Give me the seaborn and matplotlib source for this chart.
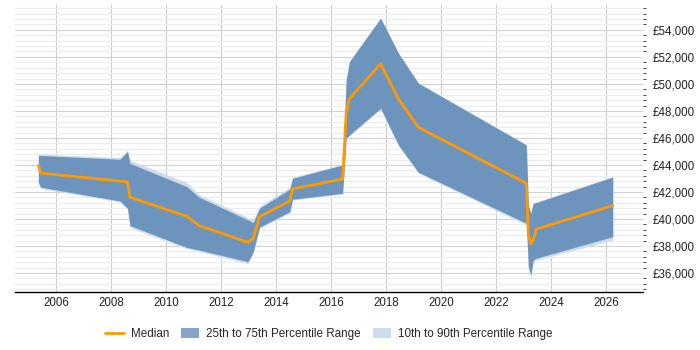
import numpy as np
import pandas as pd
import seaborn as sns
import matplotlib.pyplot as plt
from matplotlib.patches import Patch
from matplotlib.lines import Line2D
from matplotlib.ticker import FuncFormatter, MultipleLocator

years = [2005.36, 2005.45, 2008.33, 2008.60, 2008.69, 2010.75, 2011.20, 2012.98,
         2013.17, 2013.40, 2014.50, 2014.60, 2016.42, 2016.55, 2016.67, 2017.80,
         2018.45, 2019.17, 2023.10, 2023.17, 2023.26, 2023.35, 2023.45, 2026.24]
median = [43950, 43400, 42800, 42740, 41610, 40200, 39510, 38270,
          38570, 40170, 41330, 42220, 42960, 47830, 48910, 51480,
          48890, 46790, 42640, 38900, 38150, 38440, 39240, 40990]
p25 = [42700, 42350, 41330, 40790, 39510, 37900, 37700, 36840,
       37580, 39400, 40540, 41460, 41900, 45980, 46220, 48200,
       45480, 43460, 39680, 36500, 35850, 36960, 37090, 38690]
p75 = [44700, 44700, 44420, 44990, 44120, 42400, 41610, 39930,
       39730, 40800, 42200, 43010, 44000, 50300, 51650, 54860,
       52270, 50050, 45480, 41000, 40420, 41160, 41210, 43100]
p10 = [42600, 42250, 41250, 40700, 39350, 37800, 37600, 36700,
       37400, 39300, 40450, 41400, 41850, 45900, 46150, 48150,
       45400, 43400, 39550, 36300, 35600, 36800, 36950, 38440]
p90 = [44800, 44800, 44550, 45100, 44350, 42700, 41800, 40100,
       39900, 40950, 42350, 43100, 44050, 50350, 51700, 54900,
       52300, 50100, 45500, 41050, 40450, 41200, 41250, 43150]

df = pd.DataFrame({"year": years, "median": median})

sns.set_style("white")
plt.rcParams['font.family'] = ['Liberation Sans', 'DejaVu Sans']

fig = plt.figure(figsize=(7, 3.5), dpi=100)
ax = fig.add_axes([0.021, 0.166, 0.898, 0.82])

c_inner = "#6d94bd"
c_outer = "#cddced"
c_med = "#ff9900"

ax.fill_between(years, p10, p90, color=c_outer, lw=0, zorder=2)
ax.fill_between(years, p25, p75, color=c_inner, lw=0, zorder=3)
sns.lineplot(data=df, x="year", y="median", ax=ax, color=c_med, lw=2, zorder=4)

ax.set_xlim(2004.5, 2027.35)
ax.set_ylim(34600, 55850)
ax.xaxis.set_major_locator(MultipleLocator(2))
ax.yaxis.set_major_locator(MultipleLocator(2000))
ax.yaxis.set_minor_locator(MultipleLocator(400))
ax.xaxis.set_major_formatter(FuncFormatter(lambda v, p: f"{int(v)}"))
ax.yaxis.set_major_formatter(FuncFormatter(lambda v, p: f"£{int(v):,}"))
ax.yaxis.tick_right()
ax.tick_params(axis="both", length=0, labelsize=8.3, colors="#222222", pad=4)
ax.tick_params(axis="y", pad=7)

ax.grid(axis="y", which="minor", color="#ececec", lw=0.8, zorder=0)
ax.grid(axis="y", which="major", color="#d2d2d2", lw=0.8, zorder=0)
ax.grid(axis="x", which="major", color="#cccccc", lw=0.8, zorder=0)
ax.set_axisbelow(True)

for s in ["left", "right", "top"]:
    ax.spines[s].set_visible(False)
ax.spines["bottom"].set_color("black")
ax.spines["bottom"].set_linewidth(1)
ax.set_xlabel("")
ax.set_ylabel("")

handles = [Line2D([0], [0], color=c_med, lw=2),
           Patch(facecolor="#87a5c4", edgecolor="none"),
           Patch(facecolor=c_outer, edgecolor="none")]
labels = ["Median", "25th to 75th Percentile Range", "10th to 90th Percentile Range"]
fig.legend(handles, labels, loc="center", bbox_to_anchor=(0.47, 0.045), ncol=3,
           frameon=False, fontsize=8.4, handlelength=1.6, handleheight=0.9,
           columnspacing=1.0, handletextpad=0.6)

fig.savefig("out.png", dpi=100)
